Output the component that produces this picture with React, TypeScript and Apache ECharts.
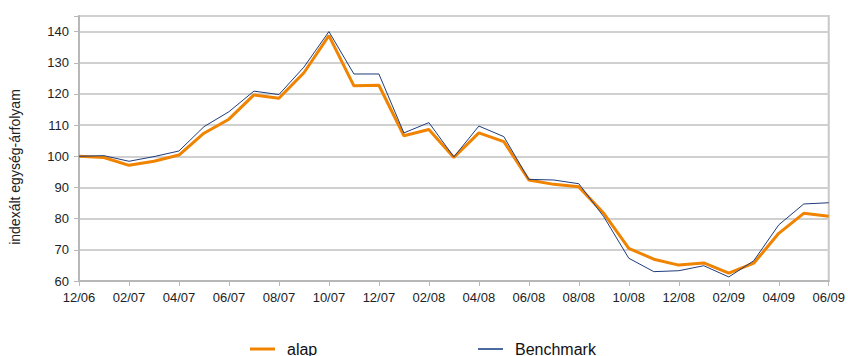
import React, { useEffect, useRef } from "react";
import * as echarts from "echarts";

const categories = [
  "12/06", "01/07", "02/07", "03/07", "04/07", "05/07", "06/07", "07/07", "08/07", "09/07",
  "10/07", "11/07", "12/07", "01/08", "02/08", "03/08", "04/08", "05/08", "06/08", "07/08",
  "08/08", "09/08", "10/08", "11/08", "12/08", "01/09", "02/09", "03/09", "04/09", "05/09", "06/09",
];

const alap = [
  100, 99.6, 97.1, 98.4, 100.4, 107.4, 111.9, 119.7, 118.6, 126.8,
  138.7, 122.6, 122.8, 106.6, 108.6, 99.6, 107.5, 104.7, 92.4, 91.0,
  90.2, 81.7, 70.5, 67.0, 65.1, 65.8, 62.5, 65.7, 75.3, 81.7, 80.8,
];

const benchmark = [
  100, 100.2, 98.4, 99.9, 101.7, 109.5, 114.3, 120.9, 119.8, 128.6,
  140.0, 126.4, 126.4, 107.5, 110.8, 99.8, 109.7, 106.3, 92.6, 92.4,
  91.2, 80.6, 67.3, 63.0, 63.3, 64.9, 61.3, 66.5, 78.0, 84.7, 85.1,
];

const yAxisName = "indexált egység-árfolyam";

export default function App() {
  const ref = useRef<HTMLDivElement>(null);
  useEffect(() => {
    if (!ref.current) return;
    const chart = echarts.init(ref.current, null, { renderer: "svg" });
    const font = "Liberation Sans, Arial, sans-serif";
    chart.setOption({
      animation: false,
      backgroundColor: "#ffffff",
      grid: {
        left: 79,
        right: 17,
        top: 16,
        bottom: 75,
        show: true,
        borderColor: "#c8c8c8",
        borderWidth: 2,
      },
      legend: [
        {
          data: ["alap"],
          left: 245,
          top: 336,
          itemWidth: 25,
          itemHeight: 3,
          icon: "rect",
          textStyle: { fontFamily: font, fontSize: 16, color: "#111", padding: [0, 0, 0, 7] },
        },
        {
          data: ["Benchmark"],
          left: 473,
          top: 336,
          itemWidth: 25,
          itemHeight: 2,
          icon: "rect",
          textStyle: { fontFamily: font, fontSize: 16, color: "#111", padding: [0, 0, 0, 7] },
        },
      ],
      xAxis: {
        type: "category",
        data: categories,
        boundaryGap: false,
        axisLine: { lineStyle: { color: "#b8b8b8", width: 2 } },
        axisTick: { show: true, interval: 1, length: 5, lineStyle: { color: "#b8b8b8", width: 1 } },
        axisLabel: { interval: 1, margin: 10, fontFamily: font, fontSize: 13, color: "#222" },
        splitLine: { show: false },
      },
      yAxis: {
        type: "value",
        min: 60,
        max: 145,
        interval: 10,
        name: yAxisName,
        nameLocation: "middle",
        nameGap: 57,
        nameRotate: 90,
        nameTextStyle: { fontFamily: font, fontSize: 14, color: "#222", padding: [0, 37, 0, 0] },
        axisLine: { show: true, lineStyle: { color: "#b8b8b8", width: 2 } },
        axisTick: { show: true, length: 5, lineStyle: { color: "#b8b8b8", width: 1 } },
        axisLabel: {
          margin: 10,
          fontFamily: font,
          fontSize: 13,
          color: "#222",
          formatter: (v: number) => (v > 140 ? "" : String(v)),
        },
        splitLine: { show: true, lineStyle: { color: "#d0d0d0", width: 2 } },
      },
      series: [
        {
          name: "alap",
          type: "line",
          data: alap,
          showSymbol: false,
          symbol: "none",
          lineStyle: { color: "#f08300", width: 3 },
          itemStyle: { color: "#f08300" },
        },
        {
          name: "Benchmark",
          type: "line",
          data: benchmark,
          showSymbol: false,
          symbol: "none",
          lineStyle: { color: "#1f3c7c", width: 1 },
          itemStyle: { color: "#4a6aa0" },
        },
      ],
    });
    return () => chart.dispose();
  }, []);
  return (
    <div
      ref={ref}
      style={{ position: "fixed", left: 0, top: 0, width: 848, height: 356 }}
    />
  );
}
